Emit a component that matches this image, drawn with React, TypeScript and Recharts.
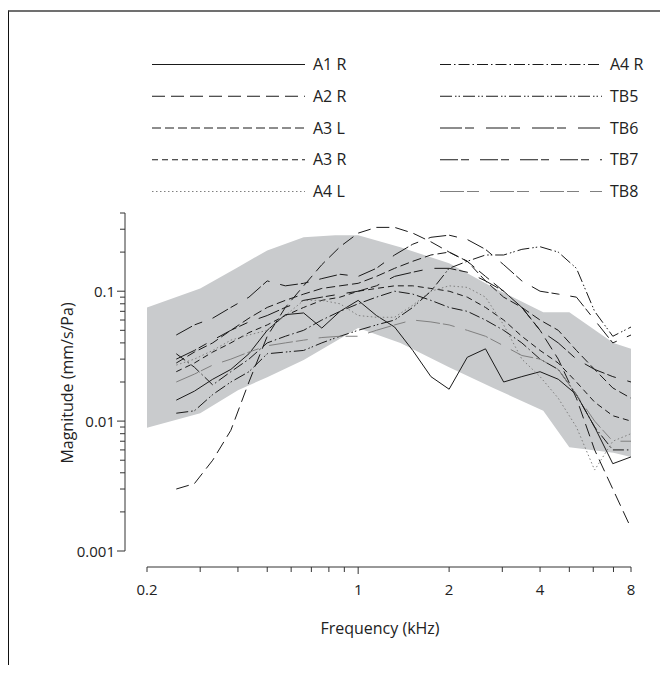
import React from 'react';
import { ComposedChart, Line, Area, XAxis, YAxis, Legend } from 'recharts';

const FONT = '"Open Sans", "Noto Sans", Arial, sans-serif';

const FREQ = [0.25, 0.287, 0.33, 0.379, 0.435, 0.5, 0.574, 0.66, 0.758, 0.871, 1, 1.149, 1.32, 1.516, 1.741, 2, 2.297, 2.639, 3.031, 3.482, 4, 4.595, 5.278, 6.063, 6.964, 8];

const A1R = [0.0145, 0.017, 0.021, 0.025, 0.033, 0.05, 0.066, 0.068, 0.052, 0.07, 0.085, 0.065, 0.053, 0.035, 0.022, 0.0176, 0.031, 0.036, 0.02, 0.022, 0.024, 0.021, 0.016, 0.009, 0.0047, 0.0053];
const A2R = [0.003, 0.0033, 0.005, 0.0085, 0.02, 0.045, 0.075, 0.11, 0.16, 0.22, 0.28, 0.31, 0.31, 0.28, 0.24, 0.2, 0.17, 0.13, 0.1, 0.075, 0.05, 0.03, 0.015, 0.006, 0.003, 0.0015];
const A3L = [0.028, 0.034, 0.04, 0.05, 0.062, 0.075, 0.085, 0.095, 0.105, 0.11, 0.115, 0.13, 0.15, 0.17, 0.19, 0.2, 0.17, 0.12, 0.09, 0.075, 0.06, 0.05, 0.035, 0.025, 0.018, 0.015];
const A3R = [0.024, 0.028, 0.034, 0.04, 0.048, 0.055, 0.065, 0.075, 0.085, 0.09, 0.1, 0.105, 0.11, 0.11, 0.105, 0.1, 0.09, 0.075, 0.06, 0.045, 0.035, 0.028, 0.02, 0.014, 0.011, 0.01];
const A4L = [0.027, 0.03, 0.035, 0.042, 0.046, 0.05, 0.065, 0.085, 0.085, 0.08, 0.065, 0.063, 0.063, 0.078, 0.1, 0.11, 0.107, 0.09, 0.055, 0.03, 0.022, 0.015, 0.009, 0.0042, 0.007, 0.008];
const A4R = [0.033, 0.026, 0.019, 0.024, 0.03, 0.04, 0.045, 0.05, 0.06, 0.07, 0.08, 0.09, 0.1, 0.095, 0.085, 0.075, 0.07, 0.06, 0.05, 0.04, 0.03, 0.025, 0.016, 0.009, 0.006, 0.006];
const TB5 = [0.0115, 0.012, 0.016, 0.02, 0.024, 0.033, 0.034, 0.035, 0.04, 0.045, 0.05, 0.055, 0.06, 0.075, 0.1, 0.15, 0.17, 0.19, 0.19, 0.21, 0.22, 0.2, 0.15, 0.07, 0.045, 0.053];
const TB6 = [0.03, 0.035, 0.042, 0.05, 0.058, 0.065, 0.075, 0.085, 0.09, 0.095, 0.1, 0.11, 0.13, 0.14, 0.15, 0.15, 0.14, 0.12, 0.1, 0.075, 0.05, 0.04, 0.03, 0.025, 0.022, 0.02];
const TB7 = [0.046, 0.055, 0.062, 0.075, 0.09, 0.12, 0.11, 0.115, 0.125, 0.135, 0.13, 0.15, 0.19, 0.23, 0.26, 0.27, 0.25, 0.21, 0.16, 0.12, 0.1, 0.095, 0.09, 0.06, 0.04, 0.046];
const TB8 = [0.02, 0.023, 0.027, 0.03, 0.034, 0.038, 0.04, 0.042, 0.044, 0.045, 0.045, 0.05, 0.055, 0.06, 0.058, 0.055, 0.05, 0.045, 0.038, 0.032, 0.03, 0.025, 0.016, 0.01, 0.007, 0.007];

const BAND_F = [0.2, 0.3, 0.4, 0.5, 0.66, 0.84, 1.0, 1.38, 2.0, 2.8, 4.1, 5.0, 7.0, 8.0];
const BAND_LO = [0.0089, 0.0115, 0.0173, 0.0218, 0.0295, 0.041, 0.052, 0.04, 0.026, 0.018, 0.012, 0.0063, 0.0057, 0.0053];
const BAND_HI = [0.075, 0.105, 0.153, 0.206, 0.26, 0.27, 0.27, 0.218, 0.164, 0.107, 0.069, 0.069, 0.04, 0.036];

const X_TICKS = [0.2, 0.3, 0.4, 0.5, 0.6, 0.7, 0.8, 0.9, 1, 2, 3, 4, 5, 6, 7, 8];
const X_LABELS = [0.2, 1, 2, 4, 8];
const X_DECADES = [1];
const Y_TICKS = [0.001, 0.002, 0.003, 0.004, 0.005, 0.006, 0.007, 0.008, 0.009, 0.01, 0.02, 0.03, 0.04, 0.05, 0.06, 0.07, 0.08, 0.09, 0.1, 0.2, 0.3, 0.4];
const Y_LABELS = [0.001, 0.01, 0.1];

const SERIES = [
  { name: 'A1 R', values: A1R, dash: undefined, color: '#1a1a1a' },
  { name: 'A2 R', values: A2R, dash: '13 6', color: '#1a1a1a' },
  { name: 'A3 L', values: A3L, dash: '9 4', color: '#1a1a1a' },
  { name: 'A3 R', values: A3R, dash: '6 4', color: '#1a1a1a' },
  { name: 'A4 L', values: A4L, dash: '1.5 2.5', color: '#808080' },
  { name: 'A4 R', values: A4R, dash: '11 3 1.5 3', color: '#1a1a1a' },
  { name: 'TB5', values: TB5, dash: '12 3 1.5 2 1.5 3', color: '#1a1a1a' },
  { name: 'TB6', values: TB6, dash: '22 3 9 12', color: '#1a1a1a' },
  { name: 'TB7', values: TB7, dash: '18 3 8 11', color: '#1a1a1a' },
  { name: 'TB8', values: TB8, dash: '24 3 12 11', color: '#808080' },
];

const bandData = BAND_F.map((f, i) => ({ f, range: [BAND_LO[i], BAND_HI[i]] }));

function XTick(props: any) {
  const { x, y, payload } = props;
  const v = payload.value;
  const len = X_DECADES.includes(v) ? 7 : 5;
  return (
    <g>
      <line x1={x} x2={x} y1={y} y2={y + len} stroke="#333" strokeWidth={1} />
      {X_LABELS.includes(v) && (
        <text x={x} y={y + 28} textAnchor="middle" fontFamily={FONT} fontSize={15} fill="#222">
          {String(v)}
        </text>
      )}
    </g>
  );
}

function YTick(props: any) {
  const { x, y, payload } = props;
  const v = payload.value;
  const len = Y_LABELS.includes(v) ? 8 : 5;
  return (
    <g>
      <line x1={x} x2={x - len} y1={y} y2={y} stroke="#333" strokeWidth={1} />
      {Y_LABELS.includes(v) && (
        <text x={x - 10} y={y + 5.5} textAnchor="end" fontFamily={FONT} fontSize={15} fill="#222">
          {String(v)}
        </text>
      )}
    </g>
  );
}

function renderLegend() {
  return (
    <svg width={660} height={210} style={{ display: 'block' }}>
      {SERIES.map((s, i) => {
        const col = i < 5 ? 0 : 1;
        const row = i % 5;
        const y = 56.5 + row * 31.75;
        const x1 = col ? 432 : 144;
        const x2 = col ? 594 : 297;
        const tx = col ? 602 : 305;
        return (
          <g key={s.name}>
            <line x1={x1} x2={x2} y1={y} y2={y} stroke={s.color} strokeWidth={1} strokeDasharray={s.dash} />
            <text x={tx} y={y + 5.5} fontFamily={FONT} fontSize={16} fill="#222">
              {s.name}
            </text>
          </g>
        );
      })}
    </svg>
  );
}

const yLabel = (props: any) => {
  const vb = props.viewBox || { x: 57, y: 205, width: 60, height: 354 };
  const cx = 59;
  const cy = vb.y + vb.height / 2 - 7;
  return (
    <text
      x={cx}
      y={cy}
      transform={`rotate(-90 ${cx} ${cy})`}
      textAnchor="middle"
      dominantBaseline="central"
      fontFamily={FONT}
      fontSize={16}
      fill="#222"
    >
      Magnitude (mm/s/Pa)
    </text>
  );
};

const xLabel = (props: any) => {
  const vb = props.viewBox || { x: 117, y: 559, width: 506, height: 60 };
  return (
    <text x={372} y={vb.y + 67} textAnchor="middle" fontFamily={FONT} fontSize={16} fill="#222">
      Frequency (kHz)
    </text>
  );
};

export default function App() {
  return (
    <div style={{ position: 'relative', width: 660, height: 657, background: '#fff' }}>
      <div
        style={{
          position: 'absolute',
          left: 0,
          top: 2,
          right: 0,
          height: 663,
          boxSizing: 'border-box',
          borderTop: '2px solid #707070',
          borderLeft: '1px solid #111',
          pointerEvents: 'none',
        }}
      />
      <div style={{ position: 'absolute', left: 0, top: 0, width: 660, height: 665 }}>
        <ComposedChart width={660} height={665} margin={{ top: 205, right: 37, bottom: 46, left: 57 }}>
          <XAxis
            dataKey="f"
            type="number"
            scale="log"
            domain={[0.2, 8]}
            ticks={X_TICKS}
            interval={0}
            allowDataOverflow
            padding={{ left: 22, right: 0 }}
            height={60}
            tickSize={0}
            tickMargin={0}
            tickLine={false}
            tick={<XTick />}
            axisLine={{ stroke: '#333', strokeWidth: 1, strokeDasharray: '0 22 484 100' }}
            label={xLabel}
          />
          <YAxis
            type="number"
            scale="log"
            domain={[0.001, 0.4]}
            ticks={Y_TICKS}
            interval={0}
            allowDataOverflow
            padding={{ top: 0, bottom: 16 }}
            width={60}
            tickSize={0}
            tickMargin={0}
            tickLine={false}
            tick={<YTick />}
            axisLine={{ stroke: '#333', strokeWidth: 1, strokeDasharray: '338 100' }}
            label={yLabel}
          />
          <Legend
            layout="horizontal"
            verticalAlign="middle"
            align="center"
            content={renderLegend}
            wrapperStyle={{ left: 0, top: 0, width: 660, height: 210 }}
          />
          <Area
            data={bandData}
            dataKey="range"
            type="linear"
            stroke="none"
            fill="#c9cbcd"
            fillOpacity={1}
            legendType="none"
            isAnimationActive={false}
            dot={false}
            activeDot={false}
          />
          {SERIES.map((s) => (
            <Line
              key={s.name}
              name={s.name}
              data={FREQ.map((f, i) => ({ f, v: s.values[i] }))}
              dataKey="v"
              type="linear"
              stroke={s.color}
              strokeWidth={1}
              strokeDasharray={s.dash}
              dot={false}
              activeDot={false}
              isAnimationActive={false}
            />
          ))}
        </ComposedChart>
      </div>
    </div>
  );
}
